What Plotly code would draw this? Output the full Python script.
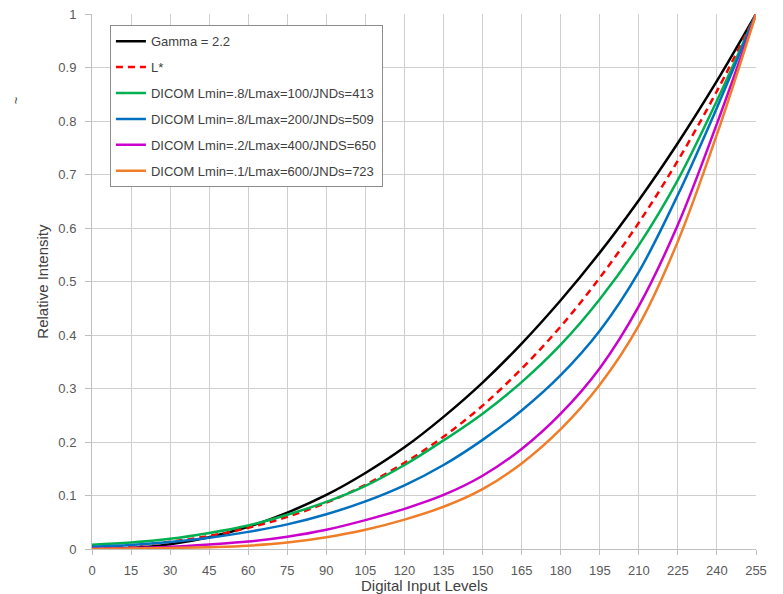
import plotly.graph_objects as go

# Digital input levels (x)
levels = [0, 15, 30, 45, 60, 75, 90, 105, 120, 135, 150, 165, 180, 195, 210, 225, 240, 255]

# Relative intensity readings per series
gamma22 = [0.0, 0.002, 0.009, 0.022, 0.0415, 0.068, 0.101, 0.142, 0.19, 0.247, 0.311, 0.384, 0.465, 0.554, 0.652, 0.759, 0.875, 1.0]
lstar = [0.0, 0.0065, 0.0137, 0.0244, 0.0396, 0.060, 0.0865, 0.12, 0.161, 0.21, 0.268, 0.337, 0.416, 0.507, 0.61, 0.726, 0.856, 1.0]
dicom_100 = [0.008, 0.012, 0.019, 0.03, 0.044, 0.064, 0.088, 0.118, 0.157, 0.203, 0.253, 0.312, 0.382, 0.467, 0.568, 0.69, 0.838, 1.0]
dicom_200 = [0.004, 0.0075, 0.013, 0.021, 0.032, 0.046, 0.065, 0.089, 0.119, 0.157, 0.204, 0.259, 0.325, 0.408, 0.518, 0.662, 0.825, 1.0]
dicom_400 = [0.0005, 0.0015, 0.004, 0.0085, 0.014, 0.023, 0.036, 0.054, 0.075, 0.101, 0.137, 0.187, 0.253, 0.338, 0.454, 0.606, 0.795, 1.0]
dicom_600 = [0.0002, 0.0008, 0.0018, 0.0035, 0.0062, 0.012, 0.022, 0.036, 0.055, 0.079, 0.112, 0.16, 0.224, 0.307, 0.418, 0.575, 0.775, 1.0]

names = [
    "Gamma = 2.2",
    "L*",
    "DICOM Lmin=.8/Lmax=100/JNDs=413",
    "DICOM Lmin=.8/Lmax=200/JNDs=509",
    "DICOM Lmin=.2/Lmax=400/JNDS=650",
    "DICOM Lmin=.1/Lmax=600/JNDs=723",
]
series = [gamma22, lstar, dicom_100, dicom_200, dicom_400, dicom_600]
colors = ["#000000", "#ff0000", "#00b050", "#0070c0", "#cc00cc", "#f07d28"]
dashes = ["solid", "7px,5px", "solid", "solid", "solid", "solid"]

x_ticks = levels
y_ticks = [0, 0.1, 0.2, 0.3, 0.4, 0.5, 0.6, 0.7, 0.8, 0.9, 1]

FONT = "Liberation Sans Narrow, Arial Narrow, Liberation Sans, Arial, sans-serif"

fig = go.Figure()
for i, (nm, ys, c, d) in enumerate(zip(names, series, colors, dashes)):
    fig.add_trace(go.Scatter(
        x=levels, y=ys, name=nm, mode="lines",
        line=dict(color=c, width=2.5, dash=d, shape="spline", smoothing=1.0),
        legendgroup=f"g{i}",
    ))

fig.update_layout(
    width=783, height=594,
    margin=dict(l=92, r=27, t=14, b=45, autoexpand=False),
    paper_bgcolor="white", plot_bgcolor="white",
    font=dict(family=FONT, size=12, color="#595959"),
    showlegend=True,
    legend=dict(
        x=0.027, y=0.979, xanchor="left", yanchor="top",
        bgcolor="white", bordercolor="#8c8c8c", borderwidth=1,
        font=dict(family=FONT, size=13, color="#404040"),
        traceorder="grouped", tracegroupgap=6,
        itemwidth=30,
    ),
    xaxis=dict(
        range=[0, 255], tickmode="array", tickvals=x_ticks,
        showgrid=True, gridcolor="#cfcfcf", gridwidth=1,
        showline=True, linecolor="#bfbfbf", linewidth=1,
        ticks="outside", ticklen=5, tickcolor="#bfbfbf",
        zeroline=False, automargin=False,
        tickfont=dict(family=FONT, size=13, color="#595959"),
        ticklabelstandoff=4,
    ),
    yaxis=dict(
        range=[0, 1], tickmode="array", tickvals=y_ticks,
        showgrid=True, gridcolor="#cfcfcf", gridwidth=1,
        showline=True, linecolor="#bfbfbf", linewidth=1,
        ticks="outside", ticklen=6, tickcolor="#bfbfbf",
        zeroline=False, automargin=False,
        tickfont=dict(family=FONT, size=13, color="#595959"),
        ticklabelstandoff=6,
    ),
    annotations=[
        dict(text="Digital Input Levels", xref="paper", yref="paper",
             x=0.5, y=-0.068, xanchor="center", yanchor="middle",
             showarrow=False, font=dict(family=FONT, size=15, color="#404040")),
        dict(text="Relative Intensity", xref="paper", yref="paper",
             x=-0.075, y=0.5, xanchor="center", yanchor="middle", textangle=-90,
             showarrow=False, font=dict(family=FONT, size=15, color="#404040")),
        dict(text="~", xref="paper", yref="paper",
             x=-0.115, y=0.838, xanchor="center", yanchor="middle", textangle=-90,
             showarrow=False, font=dict(family=FONT, size=13, color="#404040")),
    ],
)

fig.write_html(
    "out.html",
    config={"displayModeBar": False},
    post_script="document.body.style.margin='0';document.body.style.overflow='hidden';",
)
